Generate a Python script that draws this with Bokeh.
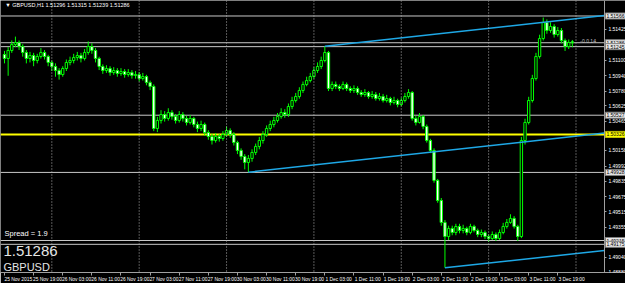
from bokeh.plotting import figure
from bokeh.models import Range1d, FixedTicker, Label, Span, ColumnDataSource, NumeralTickFormatter, AllLabels
from bokeh.embed import file_html
from bokeh.resources import INLINE

# GBPUSD H1 candles, 25 Nov 2015 11:00 .. 3 Dec 2015 23:00
opens = [1.51163, 1.51121, 1.51205, 1.51267, 1.51288, 1.51246, 1.51184, 1.51121, 1.51152, 1.51100,
         1.51142, 1.51184, 1.51142, 1.51079, 1.51037, 1.50995, 1.50953, 1.51016, 1.51079, 1.51100,
         1.51131, 1.51152, 1.51121, 1.51184, 1.51246, 1.51205, 1.51121, 1.51037, 1.50995, 1.51016,
         1.50974, 1.50995, 1.50964, 1.50985, 1.50953, 1.50974, 1.50943, 1.50953, 1.50911, 1.50932,
         1.50869, 1.50828, 1.50388, 1.50472, 1.50534, 1.50493, 1.50555, 1.50513, 1.50472, 1.50534,
         1.50493, 1.50451, 1.50493, 1.50430, 1.50388, 1.50430, 1.50346, 1.50304, 1.50262, 1.50304,
         1.50283, 1.50325, 1.50367, 1.50325, 1.50241, 1.50158, 1.50095, 1.50032, 1.50074, 1.50137,
         1.50200, 1.50262, 1.50325, 1.50388, 1.50430, 1.50472, 1.50513, 1.50555, 1.50534, 1.50618,
         1.50681, 1.50723, 1.50786, 1.50849, 1.50890, 1.50932, 1.50995, 1.51037, 1.51100, 1.51184,
         1.50807, 1.50849, 1.50828, 1.50807, 1.50849, 1.50807, 1.50786, 1.50807, 1.50765, 1.50744,
         1.50765, 1.50723, 1.50744, 1.50702, 1.50723, 1.50681, 1.50702, 1.50660, 1.50681, 1.50639,
         1.50681, 1.50723, 1.50765, 1.50493, 1.50451, 1.50513, 1.50409, 1.50262, 1.50158, 1.49844,
         1.49634, 1.49404, 1.49257, 1.49341, 1.49299, 1.49362, 1.49320, 1.49341, 1.49299, 1.49362,
         1.49320, 1.49278, 1.49299, 1.49257, 1.49236, 1.49278, 1.49236, 1.49299, 1.49362, 1.49404,
         1.49446, 1.49362, 1.49257, 1.50262, 1.50451, 1.50681, 1.50911, 1.51142, 1.51330, 1.51498,
         1.51414, 1.51456, 1.51372, 1.51414, 1.51309, 1.51246, 1.51296]

highs = [1.5120, 1.5124, 1.5131, 1.5135, 1.5131, 1.5127, 1.5121, 1.5119, 1.5118, 1.5117,
         1.5123, 1.5121, 1.5116, 1.5110, 1.5107, 1.5102, 1.5104, 1.5111, 1.5114, 1.5117,
         1.5119, 1.5118, 1.5122, 1.5130, 1.5128, 1.5123, 1.5114, 1.5106, 1.5105, 1.5104,
         1.5103, 1.5102, 1.5102, 1.5101, 1.5101, 1.5100, 1.5099, 1.5098, 1.5097, 1.5095,
         1.5089, 1.5085, 1.5051, 1.5058, 1.5057, 1.5060, 1.5058, 1.5054, 1.5057, 1.5056,
         1.5052, 1.5053, 1.5051, 1.5046, 1.5047, 1.5045, 1.5037, 1.5033, 1.5034, 1.5033,
         1.5036, 1.5041, 1.5039, 1.5035, 1.5026, 1.5018, 1.5012, 1.5011, 1.5017, 1.5023,
         1.5030, 1.5036, 1.5042, 1.5047, 1.5051, 1.5055, 1.5060, 1.5059, 1.5065, 1.5072,
         1.5076, 1.5082, 1.5088, 1.5093, 1.5097, 1.5103, 1.5108, 1.5114, 1.5125, 1.5120,
         1.5088, 1.5088, 1.5085, 1.5088, 1.5087, 1.5083, 1.5084, 1.5083, 1.5079, 1.5080,
         1.5078, 1.5078, 1.5077, 1.5076, 1.5075, 1.5074, 1.5072, 1.5072, 1.5070, 1.5071,
         1.5076, 1.5080, 1.5078, 1.5052, 1.5055, 1.5053, 1.5043, 1.5028, 1.5018, 1.4986,
         1.4966, 1.4943, 1.4937, 1.4937, 1.4939, 1.4939, 1.4938, 1.4936, 1.4939, 1.4938,
         1.4934, 1.4933, 1.4932, 1.4928, 1.4931, 1.4930, 1.4933, 1.4940, 1.4944, 1.4949,
         1.4947, 1.4938, 1.5030, 1.5049, 1.5072, 1.5095, 1.5118, 1.5137, 1.5155, 1.5153,
         1.5150, 1.5148, 1.5145, 1.5144, 1.5133, 1.5132, 1.51315]

lows = [1.5107, 1.5094, 1.5118, 1.5124, 1.5121, 1.5114, 1.5107, 1.5108, 1.5104, 1.5107,
        1.5112, 1.5111, 1.5104, 1.5099, 1.5093, 1.5090, 1.5093, 1.5099, 1.5105, 1.5107,
        1.5110, 1.5108, 1.5110, 1.5116, 1.5117, 1.5108, 1.5100, 1.5096, 1.5097, 1.5094,
        1.5095, 1.5093, 1.5094, 1.5092, 1.5093, 1.5091, 1.5091, 1.5088, 1.5089, 1.5084,
        1.5079, 1.5036, 1.5035, 1.5044, 1.5046, 1.5047, 1.5048, 1.5044, 1.5045, 1.5046,
        1.5042, 1.5043, 1.5040, 1.5035, 1.5036, 1.5031, 1.5027, 1.5022, 1.5024, 1.5025,
        1.5026, 1.5030, 1.5029, 1.5021, 1.5012, 1.5006, 1.4996, 1.4993, 1.5004, 1.5011,
        1.5017, 1.5023, 1.5030, 1.5036, 1.5040, 1.5045, 1.5049, 1.5050, 1.5051, 1.5059,
        1.5066, 1.5070, 1.5076, 1.5083, 1.5087, 1.5091, 1.5097, 1.5101, 1.5108, 1.5078,
        1.5078, 1.5080, 1.5078, 1.5079, 1.5078, 1.5076, 1.5076, 1.5074, 1.5072, 1.5072,
        1.5070, 1.5070, 1.5068, 1.5068, 1.5066, 1.5066, 1.5063, 1.5064, 1.5061, 1.5062,
        1.5066, 1.5070, 1.5047, 1.5042, 1.5044, 1.5038, 1.5024, 1.5013, 1.4982, 1.4961,
        1.4937, 1.4893, 1.4922, 1.4927, 1.4927, 1.4929, 1.4929, 1.4927, 1.4928, 1.4930,
        1.4925, 1.4925, 1.4923, 1.4920, 1.4922, 1.4921, 1.4922, 1.4928, 1.4934, 1.4939,
        1.4934, 1.4921, 1.4924, 1.5022, 1.5043, 1.5066, 1.5089, 1.5112, 1.5131, 1.5138,
        1.5139, 1.5134, 1.5135, 1.5128, 1.5120, 1.5122, 1.51239]

closes = [1.51121, 1.51205, 1.51267, 1.51288, 1.51246, 1.51184, 1.51121, 1.51152, 1.51100, 1.51142,
          1.51184, 1.51142, 1.51079, 1.51037, 1.50995, 1.50953, 1.51016, 1.51079, 1.51100, 1.51131,
          1.51152, 1.51121, 1.51184, 1.51246, 1.51205, 1.51121, 1.51037, 1.50995, 1.51016, 1.50974,
          1.50995, 1.50964, 1.50985, 1.50953, 1.50974, 1.50943, 1.50953, 1.50911, 1.50932, 1.50869,
          1.50828, 1.50388, 1.50472, 1.50534, 1.50493, 1.50555, 1.50513, 1.50472, 1.50534, 1.50493,
          1.50451, 1.50493, 1.50430, 1.50388, 1.50430, 1.50346, 1.50304, 1.50262, 1.50304, 1.50283,
          1.50325, 1.50367, 1.50325, 1.50241, 1.50158, 1.50095, 1.50032, 1.50074, 1.50137, 1.50200,
          1.50262, 1.50325, 1.50388, 1.50430, 1.50472, 1.50513, 1.50555, 1.50534, 1.50618, 1.50681,
          1.50723, 1.50786, 1.50849, 1.50890, 1.50932, 1.50995, 1.51037, 1.51100, 1.51184, 1.50807,
          1.50849, 1.50828, 1.50807, 1.50849, 1.50807, 1.50786, 1.50807, 1.50765, 1.50744, 1.50765,
          1.50723, 1.50744, 1.50702, 1.50723, 1.50681, 1.50702, 1.50660, 1.50681, 1.50639, 1.50681,
          1.50723, 1.50765, 1.50493, 1.50451, 1.50513, 1.50409, 1.50262, 1.50158, 1.49844, 1.49634,
          1.49404, 1.49257, 1.49341, 1.49299, 1.49362, 1.49320, 1.49341, 1.49299, 1.49362, 1.49320,
          1.49278, 1.49299, 1.49257, 1.49236, 1.49278, 1.49236, 1.49299, 1.49362, 1.49404, 1.49446,
          1.49362, 1.49257, 1.50262, 1.50451, 1.50681, 1.50911, 1.51142, 1.51330, 1.51498, 1.51414,
          1.51456, 1.51372, 1.51414, 1.51309, 1.51246, 1.51288, 1.51286]

# time axis (bar index of each label) and labels
xlabel_bars = [0, 8, 16, 24, 32, 40, 48, 56, 64, 72, 80, 88, 96, 104, 112, 120, 128, 136, 144, 152]
xlabels = ["25 Nov 2015", "25 Nov 19:00", "26 Nov 03:00", "26 Nov 11:00", "26 Nov 19:00",
           "27 Nov 03:00", "27 Nov 11:00", "27 Nov 19:00", "30 Nov 03:00", "30 Nov 11:00",
           "30 Nov 19:00", "1 Dec 03:00", "1 Dec 11:00", "1 Dec 19:00", "2 Dec 03:00",
           "2 Dec 11:00", "2 Dec 19:00", "3 Dec 03:00", "3 Dec 11:00", "3 Dec 19:00"]
# day separators (bar index at midnight)
day_bars = [13, 37, 61, 85, 109, 133, 157]

# price axis ticks
price_ticks = [1.51425, 1.51265, 1.51100, 1.50940, 1.50780, 1.50625, 1.50465, 1.50310,
               1.50158, 1.49992, 1.49835, 1.49675, 1.49515, 1.49355, 1.49195, 1.49040, 1.48880]

# horizontal lines (price, label)
hline_prices = [1.51566, 1.51286, 1.51245, 1.50527, 1.49928, 1.49215, 1.49175]
hline_labels = ["1.51566", "1.51286", "1.51245", "1.50527", "1.49928", "1.49215", "1.49175"]
yellow_price = 1.50326
yellow_label = "1.50326"

# trend lines (bar, price) -> (bar, price)
trend_x0 = [88, 67, 121]
trend_y0 = [1.5125, 1.4993, 1.4893]
trend_x1 = [164.8, 164.8, 164.8]
trend_y1 = [1.5157, 1.5034, 1.4911]

symbol = "GBPUSD"
last_price = "1.51286"
header = "\u25bc GBPUSD,H1  1.51296 1.51315 1.51239 1.51286"
spread_text = "Spread = 1.9"

FONT = "Liberation Sans"
LIME = "#00FF00"
X_LEFT = -1.1      # left edge of chart (bar units)
X_SCALE = 164.8    # position of the price scale (bar units)

p = figure(frame_width=625, frame_height=272,
           x_range=Range1d(X_LEFT, 170.6), y_range=Range1d(1.488799, 1.517283),
           output_backend="svg", toolbar_location=None, y_axis_location="right",
           background_fill_color="black", border_fill_color="black",
           outline_line_color=None, min_border=0)
p.grid.visible = False

# day separators
for d in day_bars:
    p.add_layout(Span(location=d, dimension="height", line_color="#B0B0B0",
                      line_dash="1 2", line_width=1))

# horizontal lines (end at the price scale)
p.segment(x0=[X_LEFT] * len(hline_prices), y0=hline_prices,
          x1=[X_SCALE] * len(hline_prices), y1=hline_prices,
          line_color="#C8C8C8", line_width=1)
p.segment(x0=[X_LEFT], y0=[yellow_price], x1=[X_SCALE], y1=[yellow_price],
          line_color="#FFFF00", line_width=2)

idx = list(range(len(closes)))
src = ColumnDataSource(dict(
    x=idx, o=opens, h=highs, l=lows, c=closes,
    top=[max(a, b) for a, b in zip(opens, closes)],
    bottom=[min(a, b) for a, b in zip(opens, closes)],
    fill=["black" if c >= o else "white" for o, c in zip(opens, closes)],
))
p.segment(x0="x", y0="l", x1="x", y1="h", source=src, line_color=LIME, line_width=1)
p.vbar(x="x", width=0.65, top="top", bottom="bottom", fill_color="fill",
       line_color=LIME, line_width=1, source=src)

# trend lines
p.segment(x0=trend_x0, y0=trend_y0, x1=trend_x1, y1=trend_y1,
          line_color="#1EA8E6", line_width=1.5)

# top border of chart
p.segment(x0=[X_LEFT], y0=[1.517283], x1=[X_SCALE], y1=[1.517283],
          line_color="#808080", line_width=1)

# price scale (drawn at fixed location inside the frame)
ya = p.yaxis[0]
ya.fixed_location = X_SCALE
ya.ticker = FixedTicker(ticks=price_ticks)
ya.formatter = NumeralTickFormatter(format="0.00000")
ya.major_label_policy = AllLabels()
ya.major_label_text_font = FONT
ya.major_label_text_font_size = "5px"
ya.major_label_text_color = "white"
ya.major_label_standoff = 2
ya.major_tick_out = 2
ya.major_tick_in = 0
ya.major_tick_line_color = "#A0A0A0"
ya.minor_tick_line_color = None
ya.axis_line_color = "#A0A0A0"

xa = p.xaxis[0]
label_shift = 3.8
centers = [b + label_shift for b in xlabel_bars]
xa.ticker = FixedTicker(ticks=centers, minor_ticks=xlabel_bars)
xa.major_label_overrides = {c: t for c, t in zip(centers, xlabels)}
xa.major_label_policy = AllLabels()
xa.major_label_text_font = FONT
xa.major_label_text_font_size = "4.9px"
xa.major_label_text_color = "white"
xa.major_label_standoff = 1
xa.major_tick_line_color = None
xa.major_tick_out = 3
xa.minor_tick_out = 3
xa.minor_tick_in = 0
xa.minor_tick_line_color = "#A0A0A0"
xa.axis_line_color = "#A0A0A0"

def ypx(px):
    return 1.517283 - px * 0.00010472

p.add_layout(Label(x=0.2, y=ypx(5), text=header, text_font=FONT, text_font_size="5.5px",
                   text_color="white", text_baseline="middle"))
p.add_layout(Label(x=0.0, y=ypx(233), text=spread_text, text_font=FONT, text_font_size="7.5px",
                   text_color="white", text_baseline="middle"))
p.add_layout(Label(x=-0.3, y=ypx(251), text=last_price, text_font=FONT, text_font_size="15px",
                   text_color="#E6E6E6", text_baseline="middle"))
p.add_layout(Label(x=-0.3, y=ypx(267), text=symbol, text_font=FONT, text_font_size="11px",
                   text_color="#E6E6E6", text_baseline="middle"))
p.add_layout(Label(x=158.2, y=ypx(41), text="-0.0.14", text_font=FONT, text_font_size="5px",
                   text_color="#C0C0C0", text_baseline="middle"))

# price boxes on the scale
for hp, ht in zip(hline_prices, hline_labels):
    p.add_layout(Label(x=X_SCALE, y=hp, x_offset=1, text=ht, text_font=FONT, text_font_size="5px",
                       text_color="black", text_baseline="middle", text_align="left",
                       background_fill_color="#E8E8E8", border_line_color="#808080",
                       padding=1))
p.add_layout(Label(x=X_SCALE, y=yellow_price, x_offset=1, text=yellow_label, text_font=FONT,
                   text_font_size="5px", text_color="black", text_baseline="middle",
                   text_align="left", background_fill_color="#FFFF00",
                   border_line_color="#C0C000", padding=1))

open("out.html", "w").write(file_html(p, INLINE))
